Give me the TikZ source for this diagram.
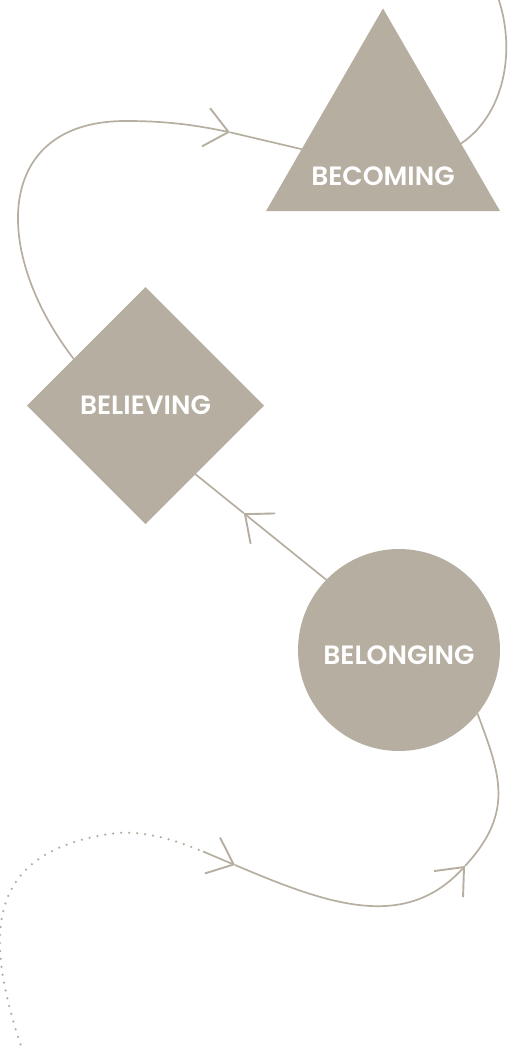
\documentclass[tikz,border=0pt]{standalone}
\usepackage{fontspec}
\newfontfamily\lblfont{Poppins SemiBold}
\usetikzlibrary{shapes.geometric, arrows.meta, calc}
\definecolor{taupe}{RGB}{182,174,161}
\pgfdeclarelayer{bg}
\pgfsetlayers{bg,main}
\tikzset{
  shapebox/.style={fill=taupe, draw=none, inner sep=0pt, outer sep=0pt},
  lbl/.style={text=white, font=\lblfont\fontsize{26.5}{30}\selectfont, inner sep=0pt, anchor=center},
  link/.style={draw=taupe, line width=1.7pt},
  dotlink/.style={draw=taupe, line width=2.5pt, line cap=round, dash pattern=on 0pt off 8pt},
  barb/.style={-{Straight Barb[length=23pt,width=39pt,line width=1.9pt]}},
}
\begin{document}
\begin{tikzpicture}[x=1pt,y=-1pt]
\useasboundingbox (0,0) rectangle (520,1047);
\clip (0,0) rectangle (520,1047);
% shapes
\node[shapebox, regular polygon, regular polygon sides=3, minimum size=270.2pt] (becoming) at (383,143.5) {};
\node[shapebox, diamond, aspect=1, minimum width=237pt, minimum height=237pt] (believing) at (145.5,405.5) {};
\node[shapebox, circle, minimum size=202pt] (belonging) at (399,650) {};
\node[lbl] (becomingtext) at (383,176) {BECOMING};
\node[lbl] (believingtext) at (145.5,405.5) {BELIEVING};
\node[lbl] (belongingtext) at (399,655.5) {BELONGING};
% coordinates
\coordinate (t1) at (230,132.3);
\coordinate (t2) at ($(belonging.136)!0.63!(believing.-54.5)$);
\coordinate (t3) at (235,865);
\coordinate (t4) at (465,866);
\coordinate (d1) at (203,851.5);
\coordinate (top) at (493,-15);
\coordinate (bot) at (23,1052);
\begin{pgfonlayer}{bg}
% becoming -> off top
\draw[link] (becoming.0) .. controls (508,112) and (518,40) .. (top);
% believing -> becoming
\draw[link, barb] (believing.147) .. controls (-10,250) and (-5,120) .. (127,121)
   .. controls (170,121) and (200,126) .. (t1);
\draw[link] (t1) -- (becoming.184);
% belonging -> believing
\draw[link, barb] (belonging.136) -- (t2);
\draw[link] (t2) -- (believing.-54.5);
% bottom path
\draw[dotlink] (bot) .. controls (-15,940) and (-20,850) .. (117,833)
   .. controls (150,831) and (180,842) .. (d1);
\draw[link, barb] (d1) -- (t3);
\draw[link, barb] (t3) .. controls (327,904) and (404.7,932.6) .. (t4);
\draw[link] (t4) .. controls (515,812) and (500,774) .. (belonging.-39);
\end{pgfonlayer}
\end{tikzpicture}
\end{document}
